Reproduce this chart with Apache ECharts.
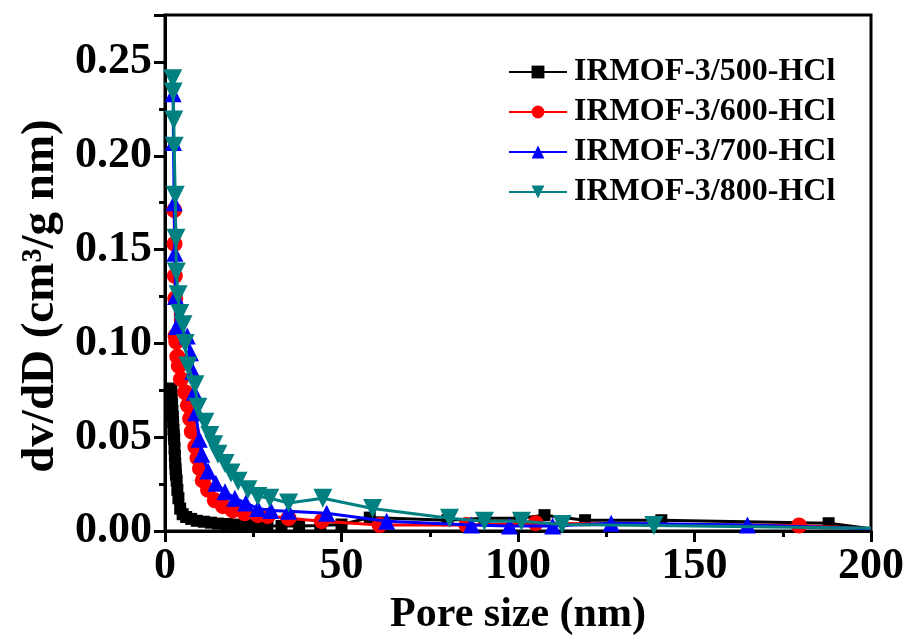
<!DOCTYPE html>
<html>
<head>
<meta charset="utf-8">
<script src="https://cdn.jsdelivr.net/npm/echarts@6/dist/echarts.min.js"></script>
<style>
  html, body { margin: 0; padding: 0; background: #fff; }
  #chart { width: 907px; height: 641px; }
</style>
</head>
<body>
<div id="chart"></div>
<script>
// Pore size distributions (BJH), pore size in nm vs dv/dD in cm3/(g nm)
const seriesNames = ['IRMOF-3/500-HCl', 'IRMOF-3/600-HCl', 'IRMOF-3/700-HCl', 'IRMOF-3/800-HCl'];

const x500 = [1.8, 1.9, 2.0, 2.1, 2.2, 2.3, 2.4, 2.5, 2.6, 2.7, 2.8, 2.9, 3.0, 3.1, 3.3, 3.5, 3.8, 4.3, 5.0, 6.0, 7.4, 9.0, 11, 13, 15, 17.5, 20, 23, 26, 29, 33, 38, 44, 50, 58, 80, 90.5, 100.5, 107.5, 119, 140.6, 188, 200];
const y500 = [0.076, 0.072, 0.068, 0.064, 0.061, 0.058, 0.054, 0.051, 0.049, 0.044, 0.040, 0.036, 0.033, 0.030, 0.027, 0.022, 0.0175, 0.012, 0.009, 0.0075, 0.0065, 0.0055, 0.005, 0.0045, 0.004, 0.0038, 0.0035, 0.0032, 0.003, 0.0028, 0.0027, 0.0027, 0.003, 0.0035, 0.0072, 0.0058, 0.0069, 0.0069, 0.0085, 0.0058, 0.0058, 0.0042, 0.0012];

const x600 = [2.6, 2.7, 2.8, 2.9, 3.0, 3.2, 3.5, 3.9, 4.5, 5.7, 6.5, 7.1, 7.6, 8.6, 9.2, 9.9, 10.7, 12.2, 14.1, 16.4, 19.2, 22.6, 26.3, 29.1, 35.0, 44.4, 60.8, 85.4, 105, 179.6, 200];
const y600 = [0.171, 0.153, 0.136, 0.124, 0.104, 0.101, 0.093, 0.088, 0.081, 0.074, 0.067, 0.060, 0.053, 0.045, 0.039, 0.0334, 0.027, 0.022, 0.0164, 0.0133, 0.011, 0.0095, 0.0085, 0.008, 0.0069, 0.0053, 0.0032, 0.0032, 0.0042, 0.003, 0.0012];

const x700 = [2.3, 2.4, 2.6, 2.8, 3.0, 3.3, 6.3, 7.2, 7.9, 8.3, 8.7, 9.7, 10.4, 12.2, 14.4, 17.0, 19.8, 22.9, 26.3, 30.0, 35.0, 45.8, 62.8, 86.8, 97.6, 109.8, 126.4, 165, 200];
const y700 = [0.233, 0.207, 0.175, 0.148, 0.125, 0.109, 0.104, 0.095, 0.085, 0.074, 0.063, 0.049, 0.041, 0.032, 0.0255, 0.021, 0.0175, 0.015, 0.012, 0.011, 0.0106, 0.0095, 0.0053, 0.0032, 0.0027, 0.0027, 0.0042, 0.0032, 0.0012];

const x800 = [2.2, 2.3, 2.5, 2.6, 2.9, 3.1, 3.2, 3.7, 4.2, 5.1, 5.7, 6.5, 8.5, 9.3, 11.3, 12.7, 13.8, 15.0, 17.0, 18.7, 20.7, 23.5, 26.3, 29.7, 35.0, 44.7, 58.8, 80.6, 90.5, 101, 112.5, 138.5, 200];
const y800 = [0.241, 0.234, 0.219, 0.205, 0.179, 0.156, 0.138, 0.126, 0.116, 0.110, 0.100, 0.088, 0.078, 0.066, 0.058, 0.051, 0.046, 0.041, 0.036, 0.031, 0.0265, 0.022, 0.0185, 0.0175, 0.015, 0.0175, 0.012, 0.0069, 0.0053, 0.0053, 0.0035, 0.003, 0.0015];

const xTicks = [0, 50, 100, 150, 200];
const yTicks = [0.00, 0.05, 0.10, 0.15, 0.20, 0.25];

// the closing point at the axis end carries the line only, no marker
const pairs = (xs, ys) => xs.map((x, i) => (
  i === xs.length - 1 ? { value: [x, ys[i]], symbol: 'none' } : [x, ys[i]]
));

const FONT = 'Liberation Serif';

const styles = [
  { color: '#000000', symbol: 'rect', size: 12, rotate: 0 },
  { color: '#ff0000', symbol: 'circle', size: 16, rotate: 0 },
  { color: '#0000ff', symbol: 'triangle', size: 17, rotate: 0 },
  { color: '#008080', symbol: 'triangle', size: 19, rotate: 180 }
];
const dataSets = [pairs(x500, y500), pairs(x600, y600), pairs(x700, y700), pairs(x800, y800)];

const chart = echarts.init(document.getElementById('chart'), null, { renderer: 'canvas' });

chart.setOption({
  animation: false,
  backgroundColor: '#ffffff',
  grid: {
    left: 165, right: 35, top: 15, bottom: 108,
    show: true, borderColor: '#000', borderWidth: 3, backgroundColor: 'transparent'
  },
  legend: {
    orient: 'vertical',
    left: 503, top: 51,
    itemWidth: 58, itemHeight: 16, itemGap: 8,
    textStyle: { fontFamily: FONT, fontWeight: 'bold', fontSize: 32, color: '#000', padding: [0, 0, 0, 2] },
    data: seriesNames
  },
  xAxis: {
    type: 'value',
    min: 0, max: 200, interval: 50,
    name: 'Pore size (nm)',
    nameLocation: 'middle',
    nameGap: 57,
    nameTextStyle: { fontFamily: FONT, fontWeight: 'bold', fontSize: 42, color: '#000' },
    axisLine: { show: true, lineStyle: { color: '#000', width: 3 } },
    axisTick: { show: true, inside: false, length: 11, lineStyle: { color: '#000', width: 3 } },
    minorTick: { show: true, splitNumber: 2, length: 6, lineStyle: { color: '#000', width: 3 } },
    splitLine: { show: false },
    axisLabel: {
      fontFamily: FONT, fontWeight: 'bold', fontSize: 44, color: '#000', margin: 14,
      formatter: v => xTicks.includes(v) ? String(v) : ''
    }
  },
  yAxis: {
    type: 'value',
    min: 0, max: 0.275, interval: 0.05,
    name: 'dv/dD (cm³/g nm)',
    nameLocation: 'middle',
    nameGap: 101,
    nameTextStyle: { fontFamily: FONT, fontWeight: 'bold', fontSize: 47, color: '#000', padding: [0, 46, 0, 0] },
    axisLine: { show: true, lineStyle: { color: '#000', width: 3 } },
    axisTick: { show: true, inside: false, length: 11, lineStyle: { color: '#000', width: 3 } },
    minorTick: { show: true, splitNumber: 2, length: 6, lineStyle: { color: '#000', width: 3 } },
    splitLine: { show: false },
    axisLabel: {
      fontFamily: FONT, fontWeight: 'bold', fontSize: 44, color: '#000', margin: 13,
      formatter: v => {
        const hit = yTicks.find(t => Math.abs(t - v) < 1e-6);
        return hit === undefined ? '' : hit.toFixed(2);
      }
    }
  },
  series: seriesNames.map((name, i) => ({
    name,
    type: 'line',
    data: dataSets[i],
    symbol: styles[i].symbol,
    symbolSize: styles[i].size,
    symbolRotate: styles[i].rotate,
    showAllSymbol: true,
    clip: true,
    z: 2 + i,
    lineStyle: { color: styles[i].color, width: 3 },
    itemStyle: { color: styles[i].color, borderWidth: 0 }
  }))
});
</script>
</body>
</html>
